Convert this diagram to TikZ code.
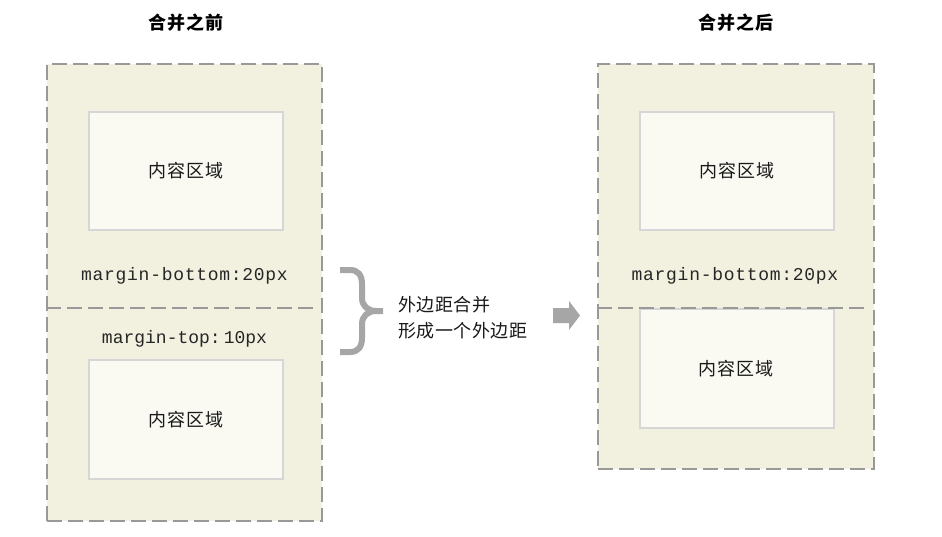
\documentclass[tikz,border=0pt]{standalone}
\usepackage{fontspec}
\newfontfamily\cjk[LetterSpace=5]{Noto Sans CJK SC}
\newfontfamily\cjktight[LetterSpace=3]{Noto Sans CJK SC}
\newfontfamily\mono[LetterSpace=4]{Liberation Mono}
\newfontfamily\monotight{Liberation Mono}
\definecolor{outerfill}{HTML}{F2F1E0}
\definecolor{outerline}{HTML}{999999}
\definecolor{innerfill}{HTML}{FAFAF3}
\definecolor{innerline}{HTML}{D6D6D6}
\definecolor{graymark}{HTML}{A6A6A6}
\tikzset{
  outerbox/.style={draw=outerline, fill=outerfill, line width=2pt, dash pattern=on 15pt off 6pt, inner sep=0pt, anchor=north west},
  innerbox/.style={draw=innerline, fill=innerfill, line width=1.5pt, inner sep=0pt, anchor=north west, minimum width=194pt},
  divline/.style={draw=outerline, line width=2pt, dash pattern=on 15pt off 6pt},
  cjklabel/.style={inner sep=0pt, font=\cjk\fontsize{18}{20}\selectfont, text=black!90},
  titlelabel/.style={inner sep=0pt, font=\cjk\bfseries\fontsize{18}{20}\selectfont},
  monolabel/.style={inner sep=0pt, anchor=base, font=\mono\fontsize{18}{20}\selectfont, text=black!85},
  monotightlabel/.style={inner sep=0pt, anchor=base, font=\monotight\fontsize{18}{20}\selectfont, text=black!85},
  sidelabel/.style={inner sep=0pt, anchor=west, font=\cjktight\fontsize{18}{20}\selectfont, text=black!90},
}
\begin{document}
\begin{tikzpicture}[x=1pt,y=-1pt]
\fill[white] (0,0) rectangle (942,536);
\useasboundingbox (0,0) rectangle (942,536);

% titles
\node[titlelabel] (t1) at (186,22.5) {合并之前};
\node[titlelabel] (t2) at (736,22.5) {合并之后};

% left (before merge)
\node[outerbox, minimum width=275pt, minimum height=457pt] (L) at (46,63) {};
\coordinate (Ldw) at (46,308);
\coordinate (Lde) at (317,308);
\draw[divline] (Ldw) -- (Lde);
\node[innerbox, minimum height=118pt] (LA) at (88,111) {};
\node[innerbox, minimum height=119pt] (LB) at (88,359) {};
\node[cjklabel] (LAt) at (LA.center) {内容区域};
\node[cjklabel] (LBt) at (LB.center) {内容区域};
\node[monolabel] (Lmb) at (184.5,280) {margin-bottom:20px};
\node[monotightlabel] (Lmt) at (184.5,343) {margin-top:\kern3pt 10px};

% brace
\draw[graymark, line width=6pt, line join=round]
  (340,270) -- (350,270) .. controls (358,270) and (362,275) .. (362,284)
  -- (362,298) .. controls (362,306) and (368,311) .. (376,311) -- (383,311);
\draw[graymark, line width=6pt, line join=round]
  (340,352) -- (350,352) .. controls (358,352) and (362,347) .. (362,338)
  -- (362,324) .. controls (362,316) and (368,311) .. (376,311);

% middle text
\node[sidelabel] (m1) at (398,304.5) {外边距合并};
\node[sidelabel] (m2) at (398,330.5) {形成一个外边距};

% arrow
\fill[graymark] (553,308) -- (569,308) -- (569,301) -- (580,315.5) -- (569,330) -- (569,323) -- (553,323) -- cycle;

% right (after merge)
\node[outerbox, minimum width=276pt, minimum height=405pt] (R) at (597,63) {};
\node[innerbox, minimum height=118pt] (RA) at (639,111) {};
\node[innerbox, minimum height=119pt] (RB) at (639,308) {};
\coordinate (Rdw) at (597,308);
\coordinate (Rde) at (869,308);
\draw[divline] (Rdw) -- (Rde);
\node[cjklabel] (RAt) at (RA.center) {内容区域};
\node[cjklabel] (RBt) at (736,368.5) {内容区域};
\node[monolabel] (Rmb) at (735,280) {margin-bottom:20px};
\end{tikzpicture}
\end{document}
